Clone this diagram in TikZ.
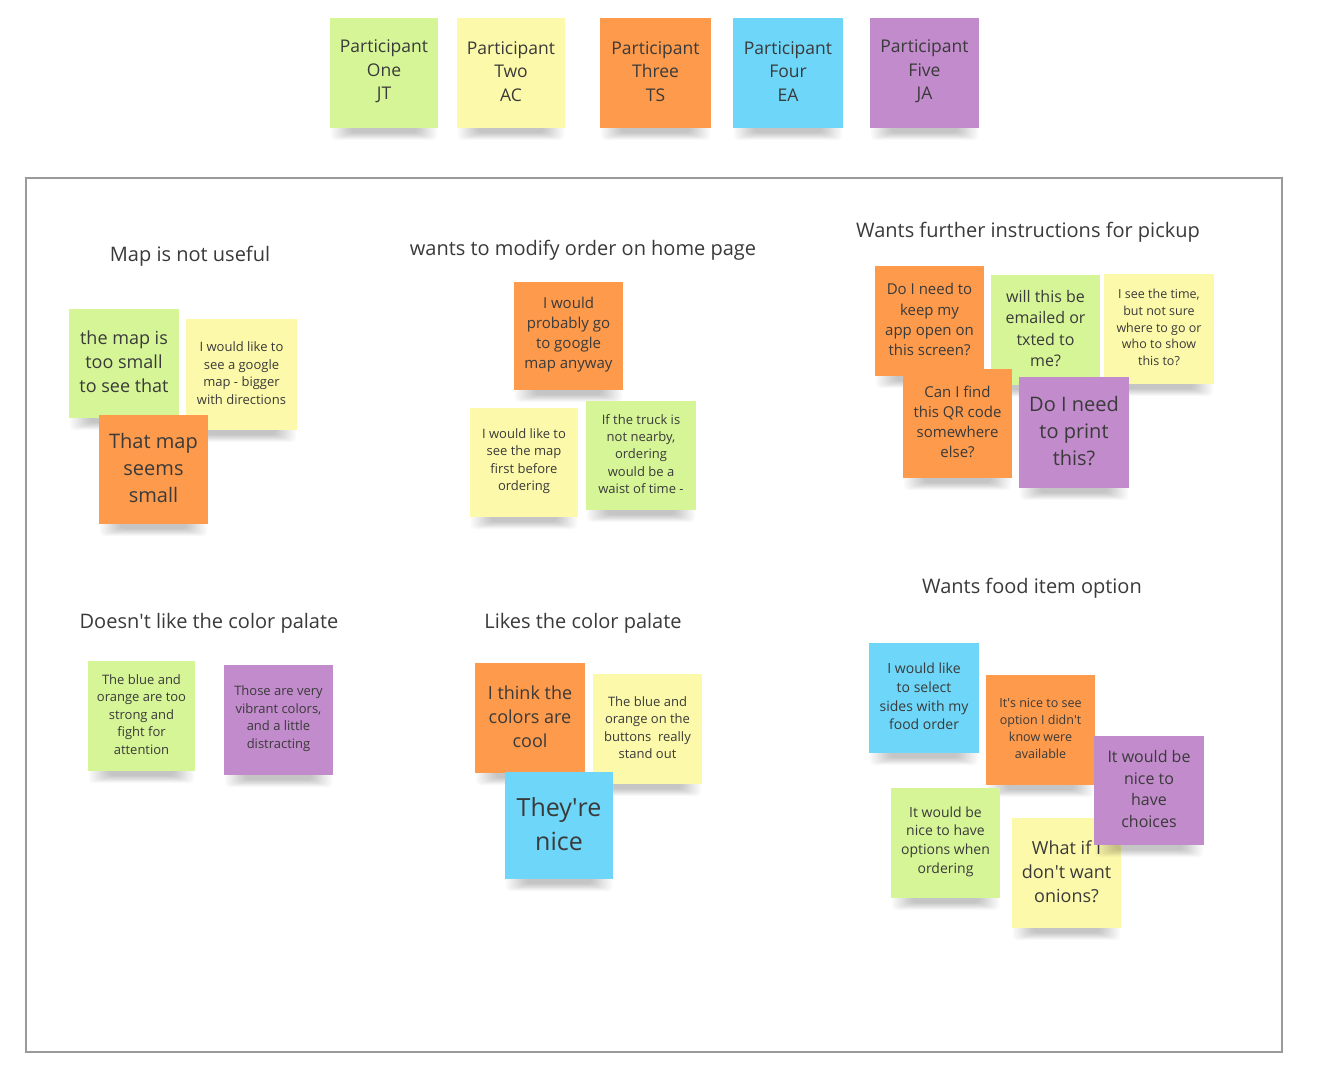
\documentclass[tikz,border=0pt]{standalone}
\usepackage{fontspec}
\setmainfont{Open Sans}
\definecolor{sgreen}{HTML}{D6F597}
\definecolor{syellow}{HTML}{FDF9AA}
\definecolor{sorange}{HTML}{FD9A4B}
\definecolor{sblue}{HTML}{6ED6F8}
\definecolor{spurple}{HTML}{C28BCC}
\definecolor{stext}{HTML}{3A3A3A}
\definecolor{sframe}{HTML}{9A9A9A}
\newcommand\apos{\textquotesingle}
\tikzset{
  stickynote/.style={inner sep=0pt, align=center, text=stext, anchor=center},
  heading/.style={font=\fontsize{20}{24}\selectfont, text=stext, anchor=center, inner sep=0pt},
}
% #1 name, #2 colour, #3 left, #4 top, #5 right, #6 bottom, #7 font size, #8 text
\newcommand\sticky[8]{%
  \pgfmathsetmacro\snW{#5-#3}%
  \pgfmathsetmacro\snH{#6-#4}%
  \pgfmathsetmacro\snX{(#3+#5)/2}%
  \pgfmathsetmacro\snY{(#4+#6)/2}%
  \pgfmathsetmacro\snL{#7*1.34}%
  \foreach \si in {0,...,9}{%
    \fill[black,opacity=0.022,rounded corners=4pt]
      (#3+1+2.2*\si,#6-3) rectangle (#5-1-2.2*\si,#6+12-0.8*\si);
  }%
  \fill[#2] (#3,#4) rectangle (#5,#6);
  \node[stickynote, font=\fontsize{#7}{\snL}\selectfont] (#1) at (\snX,\snY-1.5) {#8};
}
\begin{document}
\begin{tikzpicture}[x=1pt,y=-1pt]
\useasboundingbox (0,0) rectangle (1321,1072);
\fill[white] (0,0) rectangle (1321,1072);

% participants
\sticky{p1}{sgreen}{330}{18}{438}{128}{17.5}{Participant\\One\\JT}
\sticky{p2}{syellow}{457}{18}{565}{128}{17.5}{Participant\\Two\\AC}
\sticky{p3}{sorange}{600}{18}{711}{128}{17.5}{Participant\\Three\\TS}
\sticky{p4}{sblue}{733}{18}{843}{128}{17.5}{Participant\\Four\\EA}
\sticky{p5}{spurple}{870}{18}{979}{128}{17.5}{Participant\\Five\\JA}

% frame
\draw[sframe, line width=1.2pt] (26,178) rectangle (1282,1052);

% headings
\node[heading] (h1) at (190,256) {Map is not useful};
\node[heading] (h2) at (583,250) {wants to modify order on home page};
\node[heading] (h3) at (1028,232) {Wants further instructions for pickup};
\node[heading] (h4) at (209,623) {Doesn\apos t like the color palate};
\node[heading] (h5) at (583,623) {Likes the color palate};
\node[heading] (h6) at (1032,588) {Wants food item option};

% map is not useful
\sticky{m1}{sgreen}{69}{309}{179}{418}{18}{the map is\\too small\\to see that}
\sticky{m2}{syellow}{186}{319}{297}{430}{13}{I would like to\\see a google\\map - bigger\\with directions}
\sticky{m3}{sorange}{99}{415}{208}{524}{20}{That map\\seems\\small}

% modify order
\sticky{o1}{sorange}{514}{282}{623}{390}{15}{I would\\probably go\\to google\\map anyway}
\sticky{o2}{syellow}{470}{408}{578}{517}{13}{I would like to\\see the map\\first before\\ordering}
\sticky{o3}{sgreen}{586}{401}{696}{510}{13}{If the truck is\\not nearby,\\ordering\\would be a\\waist of time -}

% pickup
\sticky{k1}{sorange}{875}{266}{984}{376}{15}{Do I need to\\keep my\\app open on\\this screen?}
\sticky{k2}{sgreen}{991}{275}{1100}{385}{16}{will this be\\emailed or\\txted to\\me?}
\sticky{k3}{syellow}{1104}{274}{1214}{384}{12.5}{I see the time,\\but not sure\\where to go or\\who to show\\this to?}
\sticky{k4}{sorange}{903}{369}{1012}{478}{15}{Can I find\\this QR code\\somewhere\\else?}
\sticky{k5}{spurple}{1019}{377}{1129}{488}{20}{Do I need\\to print\\this?}

% doesn't like palate
\sticky{d1}{sgreen}{88}{661}{195}{771}{13}{The blue and\\orange are too\\strong and\\fight for\\attention}
\sticky{d2}{spurple}{224}{665}{333}{775}{13}{Those are very\\vibrant colors,\\and a little\\distracting}

% likes palate
\sticky{l1}{sorange}{475}{663}{585}{773}{18}{I think the\\colors are\\cool}
\sticky{l2}{syellow}{593}{674}{702}{784}{13}{The blue and\\orange on the\\buttons\ \ really\\stand out}
\sticky{l3}{sblue}{505}{772}{613}{879}{25}{They\apos re\\nice}

% food item option
\sticky{f1}{sblue}{869}{643}{979}{753}{14}{I would like\\to select\\sides with my\\food order}
\sticky{f2}{sorange}{986}{675}{1095}{785}{12.5}{It\apos s nice to see\\option I didn\apos t\\know were\\available}
\sticky{f3}{sgreen}{891}{788}{1000}{898}{14}{It would be\\nice to have\\options when\\ordering}
\sticky{f4}{syellow}{1012}{818}{1121}{928}{18}{What if I\\don\apos t want\\onions?}
\sticky{f5}{spurple}{1094}{736}{1204}{845}{16}{It would be\\nice to\\have\\choices}
\end{tikzpicture}
\end{document}
